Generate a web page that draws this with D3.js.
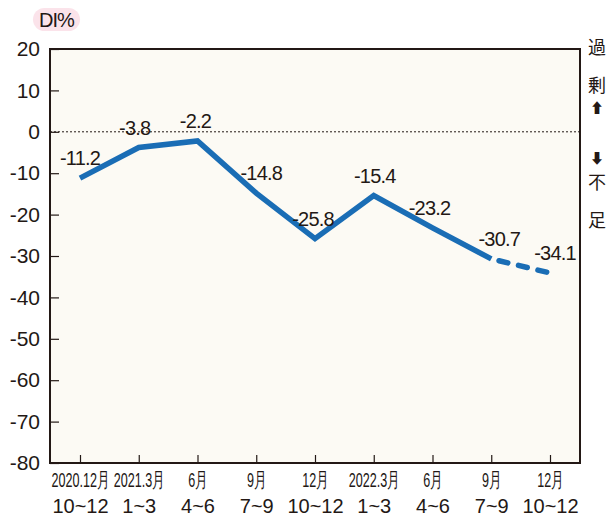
<!DOCTYPE html>
<meta charset="utf-8">
<style>
body{
    margin: 0;
    background: #fff;
    font-family: "Liberation Sans", Arial, sans-serif;
}
.tick text { fill: #231815; }
</style>
<body>
<div id="chart"></div>
<script src="https://d3js.org/d3.v7.min.js"></script>
<script>

var periods = ["2020.12月", "2021.3月", "6月", "9月", "12月", "2022.3月", "6月", "9月", "12月"];
var quarters = ["10~12", "1~3", "4~6", "7~9", "10~12", "1~3", "4~6", "7~9", "10~12"];
var diValues = [-11.2, -3.8, -2.2, -14.8, -25.8, -15.4, -23.2, -30.7, -34.1];
var yTicks = [20, 10, 0, -10, -20, -30, -40, -50, -60, -70, -80];
// index where the forecast (dashed) part starts
var forecastFrom = 7;
// small label nudges, px
var labelDx = [0, -4, -2, 5, -2, 1, -3, 8, 5];

var margin = {top: 49, right: 27, bottom: 54, left: 50},
    width = 607 - margin.left - margin.right,
    height = 517 - margin.top - margin.bottom;

var svg = d3.select("#chart")
  .append("svg")
    .attr("width", 607)
    .attr("height", 517)
  .append("g")
    .attr("transform", "translate(" + margin.left + "," + margin.top + ")");

var x = d3.scalePoint()
    .domain(d3.range(periods.length))
    .range([30, width - 30]);

var y = d3.scaleLinear()
    .domain([-80, 20])
    .range([height, 0]);

svg.append("rect")
    .attr("width", width)
    .attr("height", height)
    .attr("fill", "#fcfaf4");

// zero line
svg.append("line")
    .attr("x1", 0).attr("x2", width)
    .attr("y1", y(0)).attr("y2", y(0))
    .attr("stroke", "#231815")
    .attr("stroke-width", 1)
    .attr("stroke-dasharray", "2,2");

var yAxis = svg.append("g")
    .call(d3.axisLeft(y).tickValues(yTicks).tickSize(-9).tickPadding(10)
      .tickFormat(function(d) { return String(d); }));
yAxis.select(".domain").remove();
yAxis.selectAll("line").attr("stroke", "#231815").attr("stroke-width", 1.2);
yAxis.selectAll("text").attr("font-size", "21px").attr("font-family", "Liberation Sans, Arial, sans-serif");

var xAxis = svg.append("g")
    .attr("transform", "translate(0," + height + ")")
    .call(d3.axisBottom(x).tickSize(-8).tickFormat(""));
xAxis.select(".domain").remove();
xAxis.selectAll("line").attr("stroke", "#231815").attr("stroke-width", 1.2);

xAxis.selectAll(".tick").append("text")
    .attr("transform", "translate(0,24) scale(0.6,1)")
    .attr("font-size", "21px")
    .attr("font-family", "Liberation Sans, Arial, sans-serif")
    .attr("text-anchor", "middle")
    .attr("fill", "#231815")
    .text(function(d) { return periods[d]; });

xAxis.selectAll(".tick").append("text")
    .attr("y", 50)
    .attr("font-size", "20px")
    .attr("font-family", "Liberation Sans, Arial, sans-serif")
    .attr("text-anchor", "middle")
    .attr("fill", "#231815")
    .text(function(d) { return quarters[d]; });

// frame
svg.append("rect")
    .attr("width", width)
    .attr("height", height)
    .attr("fill", "none")
    .attr("stroke", "#231815")
    .attr("stroke-width", 2);

var line = d3.line()
    .x(function(d, i) { return x(d.i); })
    .y(function(d) { return y(d.v); });

var pts = diValues.map(function(v, i) { return {i: i, v: v}; });

svg.append("path")
    .datum(pts.slice(0, forecastFrom + 1))
    .attr("class", "line")
    .attr("fill", "none")
    .attr("stroke", "#1a6db5")
    .attr("stroke-width", 5.5)
    .attr("stroke-linejoin", "miter")
    .attr("d", line);

svg.append("path")
    .datum(pts.slice(forecastFrom))
    .attr("fill", "none")
    .attr("stroke", "#1a6db5")
    .attr("stroke-width", 5.5)
    .attr("stroke-linecap", "round")
    .attr("stroke-dasharray", "9,11")
    .attr("stroke-dashoffset", -8)
    .attr("d", line);

svg.selectAll(".val")
    .data(pts)
    .enter()
    .append("text")
      .attr("class", "val")
      .attr("x", function(d) { return x(d.i) + labelDx[d.i]; })
      .attr("y", function(d) { return y(d.v) - 13; })
      .attr("text-anchor", "middle")
      .attr("font-size", "20px")
      .attr("letter-spacing", "-0.8px")
      .attr("fill", "#231815")
      .text(function(d) { return d.v.toFixed(1); });

// unit label
var root = d3.select("svg");
root.append("rect")
    .attr("x", 33).attr("y", 8)
    .attr("width", 47).attr("height", 23)
    .attr("rx", 11.5)
    .attr("fill", "#fbe3ea");
root.append("text")
    .attr("x", 56.5).attr("y", 27)
    .attr("text-anchor", "middle")
    .attr("font-size", "20px")
    .attr("letter-spacing", "-1px")
    .attr("fill", "#231815")
    .text("DI%");

// right side notes
var notes = [["過", 54], ["剰", 92], ["⬆", 113], ["⬇", 163], ["不", 189], ["足", 227]];
root.selectAll(".note")
    .data(notes)
    .enter()
    .append("text")
      .attr("class", "note")
      .attr("x", 597)
      .attr("y", function(d) { return d[1]; })
      .attr("text-anchor", "middle")
      .attr("font-size", function(d) { return d[0] === "⬆" || d[0] === "⬇" ? "14px" : "18px"; })
      .attr("font-family", "Noto Sans CJK JP, sans-serif")
      .attr("fill", "#231815")
      .text(function(d) { return d[0]; });

</script>
</body>
